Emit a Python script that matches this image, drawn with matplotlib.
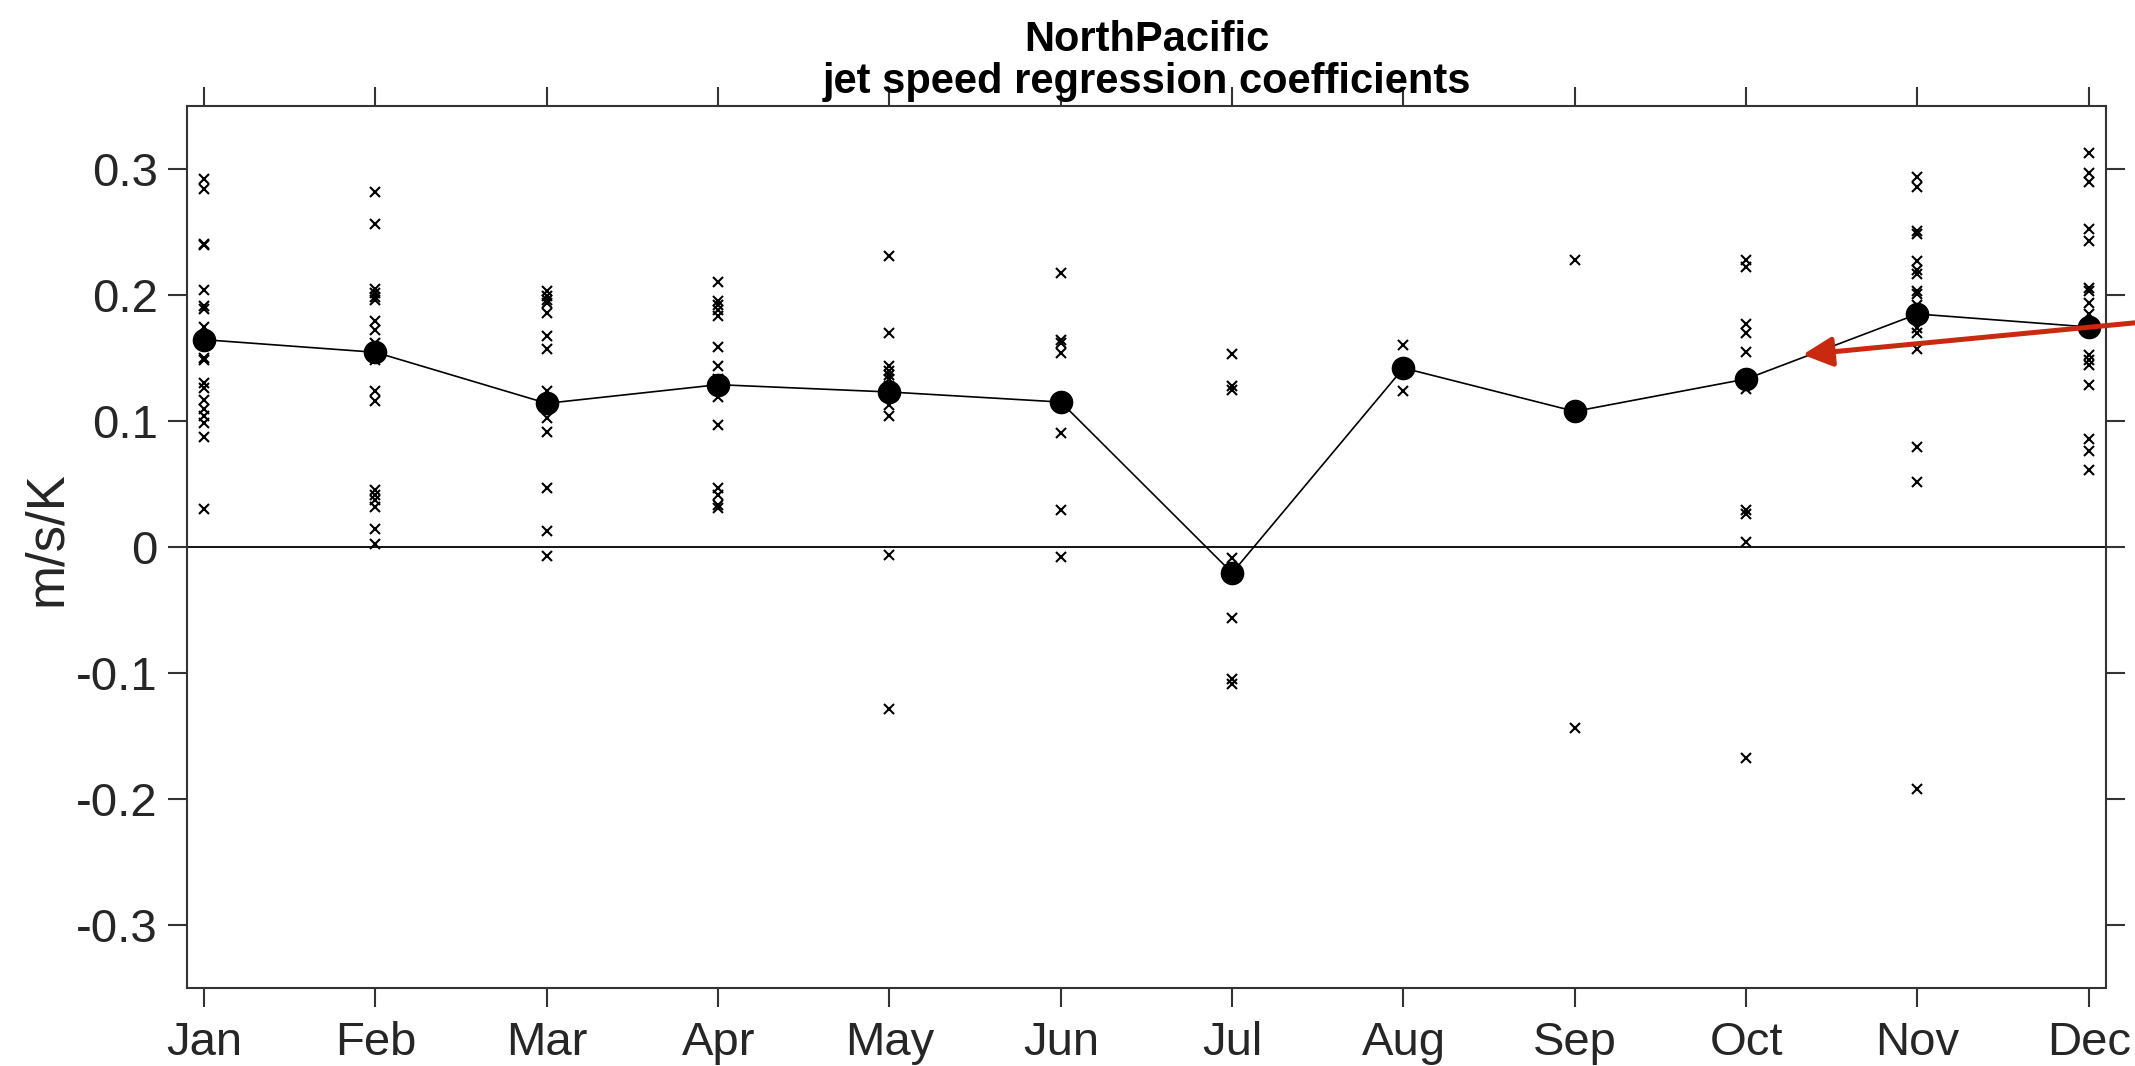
import matplotlib
matplotlib.use("Agg")
import matplotlib.pyplot as plt

# Month labels and the multi-model mean regression coefficient per month (m/s/K)
months = ["Jan", "Feb", "Mar", "Apr", "May", "Jun",
          "Jul", "Aug", "Sep", "Oct", "Nov", "Dec"]
mean_coef = [0.1645, 0.1545, 0.114, 0.1288, 0.123, 0.115,
             -0.0206, 0.142, 0.1076, 0.1333, 0.1849, 0.1746]

# Individual model coefficients for each month
jan_pts = [0.292, 0.284, 0.2405, 0.2395, 0.204, 0.191, 0.189, 0.1746, 0.150,
           0.148, 0.130, 0.126, 0.117, 0.1095, 0.1037, 0.098, 0.087, 0.030]
feb_pts = [0.282, 0.256, 0.205, 0.2015, 0.198, 0.196, 0.1796, 0.172, 0.162,
           0.1487, 0.1235, 0.116, 0.0455, 0.0415, 0.0375, 0.032, 0.014, 0.0024]
mar_pts = [0.203, 0.199, 0.196, 0.194, 0.186, 0.1677, 0.157, 0.124, 0.102,
           0.091, 0.0468, 0.0124, -0.0075]
apr_pts = [0.210, 0.195, 0.1923, 0.188, 0.183, 0.1584, 0.144, 0.133, 0.119,
           0.097, 0.0468, 0.0415, 0.0336, 0.031]
may_pts = [0.231, 0.170, 0.144, 0.140, 0.1368, 0.133, 0.1275, 0.113, 0.1037,
           -0.006, -0.1286]
jun_pts = [0.2175, 0.1645, 0.162, 0.154, 0.0905, 0.0296, -0.008]
jul_pts = [0.1534, 0.128, 0.1243, -0.0088, -0.0566, -0.1048, -0.1085]
aug_pts = [0.160, 0.124]
sep_pts = [0.228, -0.1437]
oct_pts = [0.2275, 0.222, 0.177, 0.170, 0.1547, 0.1254, 0.0296, 0.0264,
           0.0037, -0.1675]
nov_pts = [0.294, 0.286, 0.251, 0.248, 0.2267, 0.220, 0.217, 0.2029, 0.201,
           0.192, 0.1738, 0.170, 0.157, 0.079, 0.0516, -0.192]
dec_pts = [0.313, 0.297, 0.290, 0.2524, 0.2426, 0.2055, 0.2029, 0.194, 0.185,
           0.1526, 0.1487, 0.1447, 0.1283, 0.086, 0.0764, 0.0608]

yticks = [-0.3, -0.2, -0.1, 0, 0.1, 0.2, 0.3]
ytick_labels = ["-0.3", "-0.2", "-0.1", "0", "0.1", "0.2", "0.3"]

monthly_pts = [jan_pts, feb_pts, mar_pts, apr_pts, may_pts, jun_pts,
               jul_pts, aug_pts, sep_pts, oct_pts, nov_pts, dec_pts]

plt.rcParams["font.family"] = ["Liberation Sans", "DejaVu Sans"]

axis_col = "#333333"
text_col = "#262626"

fig = plt.figure(figsize=(21.35, 10.66), dpi=100)
ax = fig.add_axes([0.0876, 0.0732, 0.8988, 0.8274])

x = list(range(1, 13))

# zero reference line
ax.axhline(0, color="black", lw=1.3, zorder=1)

# individual models
for xi, pts in zip(x, monthly_pts):
    ax.plot([xi] * len(pts), pts, linestyle="none", marker="x",
            color="black", markersize=6.5, markeredgewidth=1.5, zorder=2)

# mean curve
ax.plot(x, mean_coef, color="black", lw=1.2, marker="o",
        markersize=16, zorder=3)

ax.set_xlim(0.9, 12.1)
ax.set_ylim(-0.35, 0.35)
ax.set_xticks(x)
ax.set_xticklabels(months)
ax.set_yticks(yticks)
ax.set_yticklabels(ytick_labels)

for sp in ax.spines.values():
    sp.set_color(axis_col)
    sp.set_linewidth(1.5)

ax.tick_params(axis="both", which="major", direction="out", length=14,
               width=1.5, color=axis_col, labelcolor=text_col, labelsize=34,
               top=True, right=True, labeltop=False, labelright=False)
ax.tick_params(axis="x", pad=10)
ax.tick_params(axis="y", pad=7)

ax.set_ylabel("m/s/K", fontsize=38, color=text_col, labelpad=3)
ax.yaxis.label.set_y(0.51)

ax.set_title("NorthPacific\njet speed regression coefficients",
             fontsize=30, fontweight="bold", linespacing=1.08, pad=9,
             family=["Liberation Sans Narrow", "Liberation Sans", "DejaVu Sans"],
             color="black")

# highlight arrow pointing at the Oct-Nov segment
ax.annotate("", xy=(10.33, 0.1526), xycoords="data",
            xytext=(1.02, 0.701), textcoords="figure fraction",
            arrowprops=dict(arrowstyle="-|>,head_length=0.9,head_width=0.45",
                            color="#c8290f", lw=3.6, mutation_scale=20,
                            shrinkA=0, shrinkB=0),
            annotation_clip=False, zorder=5)

fig.savefig("out.png", dpi=100)
